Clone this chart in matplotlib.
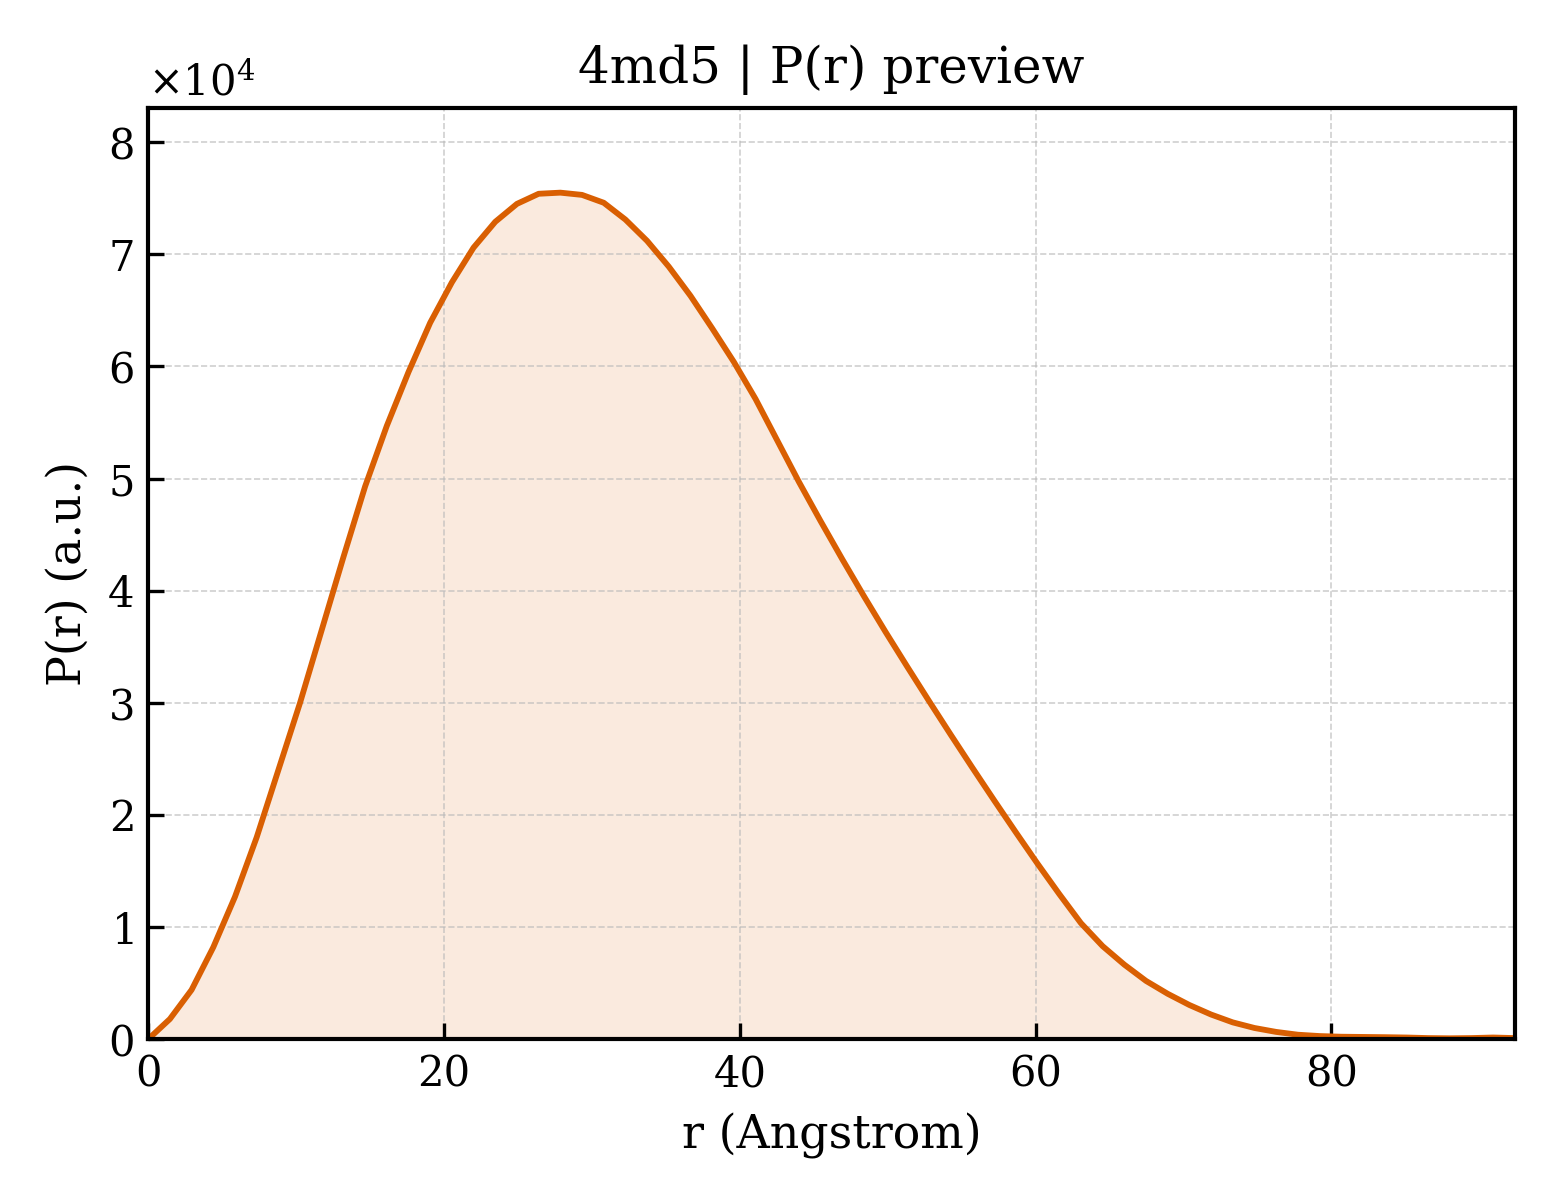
import numpy as np
import matplotlib
matplotlib.use('Agg')
import matplotlib.pyplot as plt

r_max = 92.4
n_points = 64
p_r = [0.00, 0.18, 0.44, 0.82, 1.27, 1.80, 2.40, 3.00, 3.65, 4.30,
       4.93, 5.47, 5.95, 6.39, 6.75, 7.06, 7.29, 7.45, 7.54, 7.55,
       7.53, 7.46, 7.31, 7.12, 6.89, 6.63, 6.34, 6.04, 5.71, 5.34,
       4.97, 4.62, 4.28, 3.95, 3.63, 3.32, 3.015, 2.715, 2.42, 2.13,
       1.845, 1.565, 1.295, 1.035, 0.83, 0.665, 0.52, 0.405, 0.305, 0.22,
       0.15, 0.10, 0.065, 0.04, 0.028, 0.022, 0.02, 0.018, 0.015, 0.01,
       0.008, 0.01, 0.015, 0.01]

r = np.linspace(0, r_max, n_points)
p = np.array(p_r) * 1e4

plt.rcParams['font.family'] = 'DejaVu Serif'
plt.rcParams['mathtext.fontset'] = 'dejavuserif'

fig, ax = plt.subplots(figsize=(5.2, 4), dpi=300)
fig.subplots_adjust(left=0.095, right=0.971, top=0.91, bottom=0.134)

color = '#d95f02'
ax.fill_between(r, p, 0, color=color, alpha=0.13, linewidth=0)
ax.plot(r, p, color=color, linewidth=1.4)

ax.set_xlim(0, r_max)
ax.set_ylim(0, p.max() * 1.1)

ax.grid(True, linestyle='--', linewidth=0.4, color='#bbbbbb', alpha=0.7)
ax.tick_params(direction='in', labelsize=10, length=3.8, width=0.8)
ax.ticklabel_format(axis='y', style='sci', scilimits=(0, 0), useMathText=True)
ax.yaxis.get_offset_text().set_fontsize(10)
for s in ax.spines.values():
    s.set_linewidth(1.0)

ax.set_xlabel('r (Angstrom)', fontsize=11)
ax.set_ylabel('P(r) (a.u.)', fontsize=11)
ax.set_title('4md5 | P(r) preview', fontsize=12)

plt.savefig('out.png', dpi=300)
